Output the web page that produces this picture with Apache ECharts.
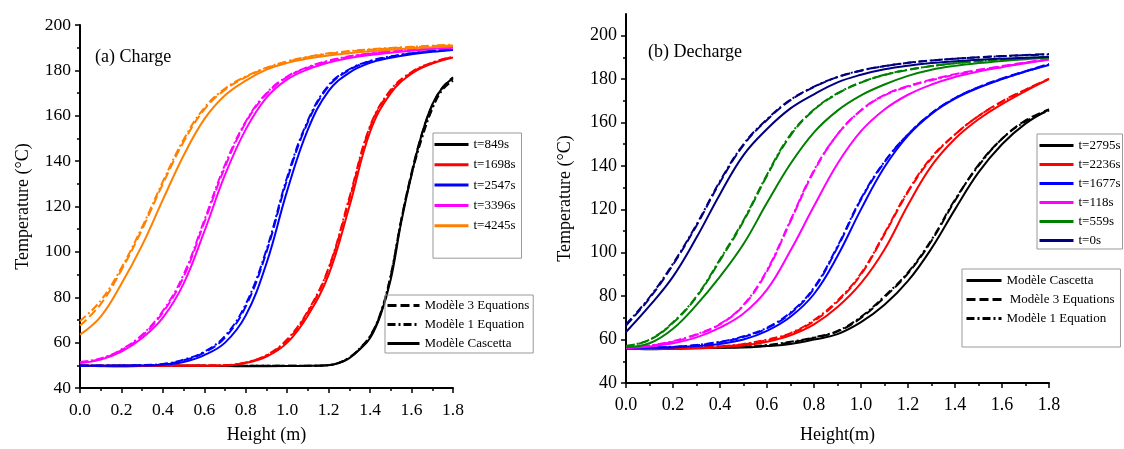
<!DOCTYPE html>
<html><head><meta charset="utf-8">
<script src="https://cdn.jsdelivr.net/npm/echarts@6/dist/echarts.min.js"></script>
<style>html,body{margin:0;padding:0;background:#fff}#c{width:1124px;height:449px}</style>
</head><body><div id="c"></div>
<script>
// ---------- data ----------
var heights = [0,0.1,0.2,0.3,0.4,0.5,0.6,0.7,0.8,0.9,1.0,1.1,1.2,1.3,1.4,1.5,1.6,1.7,1.8];
var heightsFineLeftBlack = [0,0.2,0.4,0.6,0.8,1.0,1.1,1.2,1.25,1.3,1.35,1.4,1.45,1.5,1.55,1.6,1.65,1.7,1.75,1.8];

var xTicks = [0,0.2,0.4,0.6,0.8,1.0,1.2,1.4,1.6,1.8];
var yTicksLeft = [40,60,80,100,120,140,160,180,200];
var yTicksRight = [40,60,80,100,120,140,160,180,200];

var chargeLabels = ['t=849s','t=1698s','t=2547s','t=3396s','t=4245s'];
var dechargeLabels = ['t=2795s','t=2236s','t=1677s','t=118s','t=559s','t=0s'];
var modelLabels = ['Modèle Cascetta','Modèle 3 Equations','Modèle 1 Equation'];

// (a) Charge — Cascetta / 3 Equations / 1 Equation
var L849_C   = [49.8,49.8,49.8,49.8,49.6,49.7,49.8,50,51,53.2,57,62,72,88,113,134,152,165,172.5,176.5];
var L849_3Eq = [49.8,49.8,49.8,49.8,49.8,49.8,49.8,50.1,51.1,53.4,57.3,62.7,72.6,89.5,114,135,152,164.5,172.5,177];
var L849_1Eq = [49.8,49.8,49.8,49.8,49.8,49.8,49.8,50.1,51.2,53.5,57.5,63,73,90,114,134,150,163,171.5,175.5];

var L1698_C   = [49.8,49.6,49.5,49.7,49.8,49.8,49.8,49.9,51,53.8,60,72,90,120,153,170,178.5,183,185.7];
var L1698_3Eq = [49.8,49.8,49.8,49.8,49.8,49.9,49.9,50,51.2,54.3,61,73.5,92.5,123,155,171,179,183.3,185.9];
var L1698_1Eq = [49.8,49.8,49.8,49.8,49.8,49.9,49.9,50.1,51.3,54.5,61.5,74,93,124,155.5,171.5,179.3,183.5,186];

var L2547_C   = [49.8,49.8,49.8,49.9,50.3,51.5,54.5,60,72,95,127,154,171,179,183.3,185.6,187.1,188.2,189];
var L2547_3Eq = [49.8,49.8,49.9,50,50.5,52.2,55.6,62.3,76,100,132,157.3,173,180.2,184,186,187.5,188.5,189.2];
var L2547_1Eq = [49.8,49.8,49.9,50.1,50.6,52.5,56,63,77,101,133,158,173.5,180.5,184.2,186.2,187.6,188.6,189.3];

var L3396_C   = [51,52.5,56,62,71,86,109,134,154,168,176,180.5,183.5,185.5,186.8,187.8,188.7,189.4,190];
var L3396_3Eq = [51.2,52.8,56.7,63,73.3,89,113,137.5,157,169.6,177,181.2,184,186,187.3,188.3,189.1,189.8,190.3];
var L3396_1Eq = [51.5,53,57,63.5,74,90,114,138.5,157.5,170,177.3,181.5,184.3,186.2,187.5,188.5,189.3,189.9,190.4];

var L4245_C   = [63.5,71.5,86,103,123,142.5,158.5,169,175.5,180.3,183.3,185.2,186.6,187.6,188.4,189.1,189.7,190.2,190.6];
var L4245_3Eq = [67.5,77,92,110,130,148.5,162.8,171.5,177,181,183.8,185.8,187.3,188.3,189.1,189.7,190.2,190.7,191];
var L4245_1Eq = [69.5,78.5,93,111,131,149.5,163.5,172,177.3,181.2,184,186,187.5,188.5,189.3,189.9,190.4,190.9,191.3];

// (b) Decharge
var R2795_C   = [56,55.5,55.8,56,56.2,56.3,57,58,60,62.5,68,76,87,102,120,137,150,159.5,166];
var R2795_3Eq = [56,56,56,56.2,56.4,56.6,57.3,58.7,60.8,63.7,70,79.5,90.5,105.5,124,140.5,152.5,161,166];
var R2795_1Eq = [56,56,56,56.2,56.4,56.7,57.5,59,61,64,70.5,80,91,106,124.5,140,152.5,160.5,165.5];

var R2236_C   = [56,55.7,55.8,56,56.5,57.3,59,62,67,75,86,101.5,122,140,152.5,161.5,168.5,174.5,180];
var R2236_3Eq = [56,56,56.1,56.4,56.9,57.8,59.7,62.7,68.5,77.5,90,108.5,128,143.5,154.5,163,169.8,175.2,180.2];
var R2236_1Eq = [56,56,56.2,56.5,57,58,60,63,69,78,90.5,109,128.5,144,154.5,163,169.5,175,180];

var R1677_C   = [56,56.2,56.4,57,58,60,64,70.5,81,98.5,120,139.5,154,164,171,176,180,183.5,186.5];
var R1677_3Eq = [56,56.3,56.6,57.4,58.8,61.2,65.2,72,83.5,102.5,124.5,141.7,154.5,164.3,171.3,176.3,180.3,183.7,187];
var R1677_1Eq = [56,56.3,56.7,57.5,59,61.5,65.5,72.5,84,103,125,142,154.5,164.2,171.2,176.2,180.1,183.5,186.7];

var R118_C   = [56,56.8,58.3,61,65.5,72,83,101,121.5,141,156,166,172.8,177.5,181,183.5,185.5,187.3,189];
var R118_3Eq = [56.4,57.2,59,62.2,67,75.7,91.5,114.5,137.5,154.5,165.7,172.7,176.8,179.8,182.3,184.3,186,187.7,189.2];
var R118_1Eq = [56.5,57.3,59.3,62.5,67.2,76,92,115,138,154.5,165.5,172.5,176.5,179.5,182,184,185.8,187.5,189];

var R559_C   = [56.5,58.3,65,76,89,104,123,141,155.5,165.5,172.5,177.5,181.5,184.3,186.1,187.4,188.4,189.2,189.8];
var R559_3Eq = [57,59.8,67.7,79.6,96.5,114.5,135.5,154,165.8,173.3,178.4,181.9,184.2,186,187.3,188.3,189.1,189.7,190.3];
var R559_1Eq = [57,60,68,80,97,115,136,154.5,166,173.5,178.5,182,184.3,186,187.3,188.3,189,189.6,190.1];

var R0_C   = [63.5,75.5,89,107,127,145,157,166.5,173,178.5,182,184.5,186.2,187.4,188.2,188.9,189.4,189.8,190.2];
var R0_3Eq = [66.5,79,94.5,112.5,132.5,149.6,161.2,170.3,176.4,180.9,183.9,186,187.5,188.6,189.4,190.1,190.6,191.1,191.6];
var R0_1Eq = [67,79.5,95,113,133,150,161.5,170.5,176.5,181,184,186,187.5,188.6,189.4,190,190.5,191,191.4];

// ---------- styles ----------
var FONT = "'Liberation Serif','Times New Roman',serif";
var DASH = [9,4];
var DASHDOT = [8,3,2,3];
var chargeColors = ['#000000','#ff0000','#0000ff','#ff00ff','#ff8000'];
var dechargeColors = ['#000000','#ff0000','#0000ff','#ff00ff','#008000','#000080'];

function pairs(xs, ys){ return ys.map(function(y,i){ return [xs[i], y]; }); }
function line(name, xs, ys, color, type, g){
  return {name:name, type:'line', xAxisIndex:g, yAxisIndex:g, data:pairs(xs,ys),
    symbol:'none', smooth:0.4, animation:false,
    lineStyle:{color:color, width:2, type:type}, itemStyle:{color:color}};
}

var series = [];
var chargeSets = [
  [heightsFineLeftBlack, L849_C, L849_3Eq, L849_1Eq],
  [heights, L1698_C, L1698_3Eq, L1698_1Eq],
  [heights, L2547_C, L2547_3Eq, L2547_1Eq],
  [heights, L3396_C, L3396_3Eq, L3396_1Eq],
  [heights, L4245_C, L4245_3Eq, L4245_1Eq]
];
chargeSets.forEach(function(s,i){
  series.push(line(chargeLabels[i], s[0], s[1], chargeColors[i], 'solid', 0));
  series.push(line(chargeLabels[i]+' 3Eq', s[0], s[2], chargeColors[i], DASH, 0));
  series.push(line(chargeLabels[i]+' 1Eq', s[0], s[3], chargeColors[i], DASHDOT, 0));
});
var dechargeSets = [
  [R2795_C, R2795_3Eq, R2795_1Eq],
  [R2236_C, R2236_3Eq, R2236_1Eq],
  [R1677_C, R1677_3Eq, R1677_1Eq],
  [R118_C, R118_3Eq, R118_1Eq],
  [R559_C, R559_3Eq, R559_1Eq],
  [R0_C, R0_3Eq, R0_1Eq]
];
dechargeSets.forEach(function(s,i){
  series.push(line(dechargeLabels[i], heights, s[0], dechargeColors[i], 'solid', 1));
  series.push(line(dechargeLabels[i]+' 3Eq', heights, s[1], dechargeColors[i], DASH, 1));
  series.push(line(dechargeLabels[i]+' 1Eq', heights, s[2], dechargeColors[i], DASHDOT, 1));
});
// legend-only entries for the model line styles
series.push(line(modelLabels[0], [], [], '#000', 'solid', 0));
series.push(line(modelLabels[1], [], [], '#000', DASH, 0));
series.push(line(modelLabels[2], [], [], '#000', DASHDOT, 0));

function xAxis(g, name, nameGap, fs){
  return {type:'value', gridIndex:g, min:0, max:1.8, interval:0.2, name:name,
    nameLocation:'middle', nameGap:nameGap,
    nameTextStyle:{fontFamily:FONT, fontSize:18, color:'#000'},
    axisLine:{lineStyle:{color:'#000', width:2}},
    axisTick:{show:true, inside:false, length:5, lineStyle:{color:'#000', width:1.5}},
    minorTick:{show:true, splitNumber:2, length:3, lineStyle:{color:'#000', width:1.5}},
    splitLine:{show:false},
    axisLabel:{fontFamily:FONT, fontSize:fs, color:'#000', margin:13,
      customValues: xTicks,
      formatter:function(v){ return v.toFixed(1); }}
  };
}
function yAxis(g, max, ticks, nameGap, fs){
  return {type:'value', gridIndex:g, min:40, max:max, interval:20, name:'Temperature (°C)',
    nameLocation:'middle', nameGap:nameGap,
    nameTextStyle:{fontFamily:FONT, fontSize:18, color:'#000'},
    axisLine:{lineStyle:{color:'#000', width:2}},
    axisTick:{show:true, inside:false, length:5, lineStyle:{color:'#000', width:1.5}, customValues: ticks},
    minorTick:{show:true, splitNumber:2, length:3, lineStyle:{color:'#000', width:1.5}},
    splitLine:{show:false},
    axisLabel:{fontFamily:FONT, fontSize:fs, color:'#000', margin:9, customValues: ticks}
  };
}
var legendText = {fontFamily:FONT, fontSize:13, color:'#000'};
var hiddenSymbol = {color:'rgba(0,0,0,0)', borderColor:'rgba(0,0,0,0)', borderWidth:0, opacity:0};
var option = {
  backgroundColor:'#fff',
  animation:false,
  title:[
    {text:'(a) Charge', left:95, top:48, padding:0, textStyle:{fontFamily:FONT, fontSize:18, fontWeight:'normal', color:'#000'}},
    {text:'(b) Decharge', left:648, top:43, padding:0, textStyle:{fontFamily:FONT, fontSize:18, fontWeight:'normal', color:'#000'}}
  ],
  grid:[
    {left:80, top:25, width:373, height:369},
    {left:626, top:14, width:423, height:374}
  ],
  xAxis:[xAxis(0,'Height (m)',38,17.5), xAxis(1,'Height(m)',43,18)],
  yAxis:[yAxis(0,200,yTicksLeft,48,17.5), yAxis(1,210,yTicksRight,52,18)],
  legend:[
    {data:chargeLabels, orient:'vertical', left:433, top:133, itemWidth:34, itemHeight:14, itemGap:7.3,
      padding:[5,6,26,0], borderColor:'#999', borderWidth:1, selectedMode:false, textStyle:legendText,
      lineStyle:{width:3}, itemStyle:hiddenSymbol},
    {data:['Modèle 3 Equations','Modèle 1 Equation','Modèle Cascetta'], orient:'vertical', left:385, top:295,
      itemWidth:32, itemHeight:14, itemGap:6, padding:[4,4,3,1], borderColor:'#999', borderWidth:1,
      selectedMode:false, textStyle:legendText, lineStyle:{width:3}, itemStyle:hiddenSymbol},
    {data:dechargeLabels, orient:'vertical', left:1037, top:134, itemWidth:34, itemHeight:14, itemGap:6,
      padding:[5,2,2,1], borderColor:'#999', borderWidth:1, selectedMode:false, textStyle:legendText,
      lineStyle:{width:3}, itemStyle:hiddenSymbol},
    {data:['Modèle Cascetta','Modèle 3 Equations','Modèle 1 Equation'], orient:'vertical', left:962, top:269,
      itemWidth:35, itemHeight:14, itemGap:6, padding:[5,6,22,3], borderColor:'#999', borderWidth:1,
      selectedMode:false, textStyle:legendText, lineStyle:{width:3}, itemStyle:hiddenSymbol,
      formatter:function(n){ return n==='Modèle 3 Equations' ? ' '+n : n; }}
  ],
  series:series
};
var chart = echarts.init(document.getElementById('c'), null, {renderer:'canvas'});
chart.setOption(option);
</script></body></html>
